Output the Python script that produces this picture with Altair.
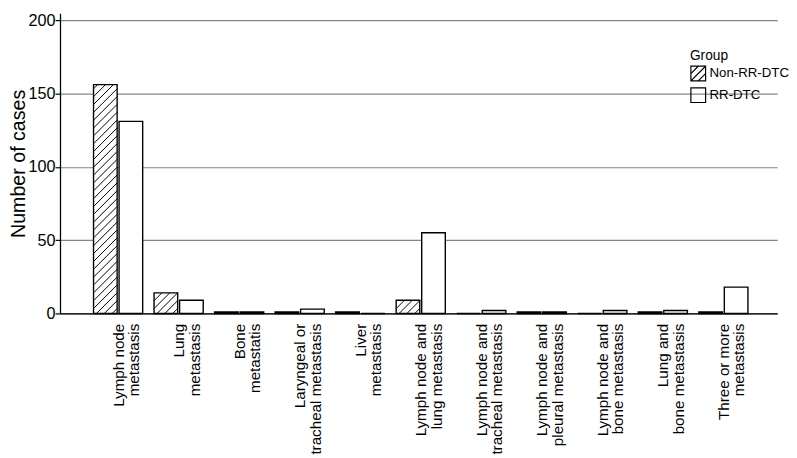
import math
import altair as alt
import pandas as pd

# ---- data ----
categories = [
    "Lymph node metastasis", "Lung metastasis", "Bone metastatis",
    "Laryngeal or tracheal metastasis", "Liver metastasis",
    "Lymph node and lung metastasis", "Lymph node and tracheal metastasis",
    "Lymph node and pleural metastasis", "Lymph node and bone metastasis",
    "Lung and bone metastasis", "Three or more metastasis",
]
label_lines = [
    ["Lymph node", "metastasis"], ["Lung", "metastasis"], ["Bone", "metastatis"],
    ["Laryngeal or", "tracheal metastasis"], ["Liver", "metastasis"],
    ["Lymph node and", "lung metastasis"], ["Lymph node and", "tracheal metastasis"],
    ["Lymph node and", "pleural metastasis"], ["Lymph node and", "bone metastasis"],
    ["Lung and", "bone metastasis"], ["Three or more", "metastasis"],
]
groups = ["Non-RR-DTC", "RR-DTC"]
non_rr = [156, 14, 1, 1, 1, 9, 0, 1, 0, 1, 1]
rr = [131, 9, 1, 3, 0, 55, 2, 1, 2, 2, 18]
y_ticks = [0, 50, 100, 150, 200]

# ---- layout constants ----
W, H = 731, 306
X_MIN, X_MAX = -0.96, 10.89
Y_MAX = 204.7
BAR_W = 0.39
GAP = 0.016
HATCH_STEP = 8.0  # px

rows = []
for i, cat in enumerate(categories):
    for g, vals in zip(groups, [non_rr, rr]):
        x0 = i - GAP - BAR_W if g == groups[0] else i + GAP
        rows.append({"idx": i, "category": cat, "group": g, "value": vals[i],
                     "x0": x0, "x1": x0 + BAR_W})
bars_df = pd.DataFrame(rows)

# hatch segments derived from Non-RR bar values
pxu = W / (X_MAX - X_MIN)
pyu = H / Y_MAX
hatch = []
for r in rows:
    if r["group"] != groups[0] or r["value"] <= 0:
        continue
    bw = BAR_W * pxu
    bh = r["value"] * pyu
    k0 = math.floor(-bh / HATCH_STEP) - 1
    k1 = math.ceil(bw / HATCH_STEP) + 1
    for k in range(k0, k1 + 1):
        c = k * HATCH_STEP + 3
        ua = max(0.0, c)
        ub = min(bw, bh + c)
        if ub - ua > 0.8:
            hatch.append({"x": r["x0"] + ua / pxu, "y": (ua - c) / pyu,
                          "x2": r["x0"] + ub / pxu, "y2": (ub - c) / pyu})
hatch_df = pd.DataFrame(hatch)

label_expr = "[" + ",".join(
    "[" + ",".join("'" + s + "'" for s in ls) + "]" for ls in label_lines
) + "][datum.value]"

xs = alt.Scale(domain=[X_MIN, X_MAX], nice=False, zero=False)
ys = alt.Scale(domain=[0, Y_MAX], nice=False, zero=True)

x_axis = alt.Axis(values=list(range(len(categories))), labelExpr=label_expr,
                  ticks=False, grid=False, title=None, labelAngle=270,
                  labelFontSize=15.5, labelLineHeight=16, labelPadding=10,
                  labelFlush=False, labelOverlap=False, labelBound=False,
                  domainColor="black", domainWidth=1.3, labelColor="black")
y_axis = alt.Axis(values=y_ticks, title="Number of cases", titleFontSize=20,
                  titleFontWeight="normal", titleColor="black", titlePadding=0,
                  labelFontSize=16.5, labelColor="black", labelPadding=0,
                  tickSize=5, tickColor="black", tickWidth=1.2,
                  domainColor="black", domainWidth=1.3,
                  grid=True, gridColor="#858585", gridWidth=1.2)

bars = alt.Chart(bars_df).mark_rect(fill="white", stroke="black", strokeWidth=1.4).encode(
    x=alt.X("x0:Q", scale=xs, axis=x_axis),
    x2="x1:Q",
    y=alt.Y("value:Q", scale=ys, axis=y_axis),
    y2=alt.datum(0),
)

hatch_layer = alt.Chart(hatch_df).mark_rule(color="black", strokeWidth=1).encode(
    x=alt.X("x:Q", scale=xs),
    x2="x2:Q",
    y=alt.Y("y:Q", scale=ys),
    y2="y2:Q",
)

sq = "M-1,-1H1V1H-1Z"
sq_hatch = sq + " M-1,1L1,-1 M-1,0L0,-1 M0,1L1,0"

legend_pts = alt.Chart(bars_df).mark_point(opacity=0, filled=False).encode(
    x=alt.X("x0:Q", scale=xs),
    y=alt.datum(0),
    shape=alt.Shape("group:N", scale=alt.Scale(domain=groups, range=[sq_hatch, sq]),
                    legend=alt.Legend(title="Group", orient="none", legendX=642, legendY=37,
                                      symbolSize=225, symbolFillColor="white",
                                      symbolStrokeColor="black", symbolStrokeWidth=1.2,
                                      symbolOpacity=1, labelFontSize=13.5, titleFontSize=14,
                                      titleFontWeight="normal", labelColor="black",
                                      titleColor="black", rowPadding=1, labelOffset=3,
                                      titlePadding=2)),
)

chart = alt.layer(bars, hatch_layer, legend_pts).properties(
    width=W, height=H, padding=0
).configure(font="Liberation Sans").configure_view(stroke=None)

chart.save("out.html", embed_options={"renderer": "svg", "actions": False})
